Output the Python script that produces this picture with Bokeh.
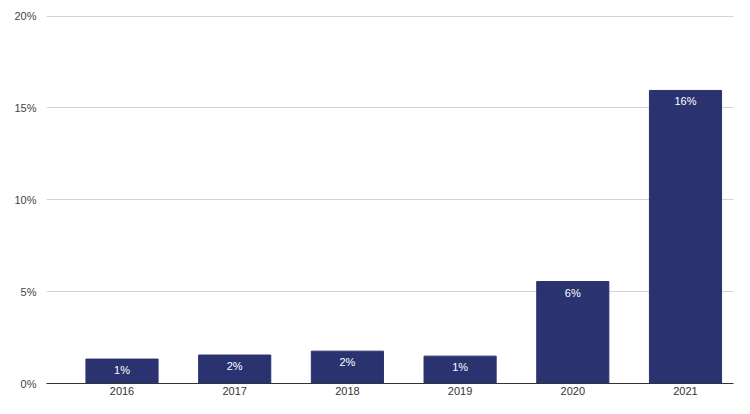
from bokeh.plotting import figure
from bokeh.models import ColumnDataSource, Range1d, FixedTicker, PrintfTickFormatter
from bokeh.core.properties import value
from bokeh.embed import file_html
from bokeh.resources import INLINE

years = [2016, 2017, 2018, 2019, 2020, 2021]
year_labels = ["2016", "2017", "2018", "2019", "2020", "2021"]
shares = [1.33, 1.55, 1.76, 1.49, 5.55, 15.95]
share_labels = ["1%", "2%", "2%", "1%", "6%", "16%"]
y_ticks = [0, 5, 10, 15, 20]

src = ColumnDataSource(dict(x=years, top=shares, label=share_labels))

p = figure(width=734, height=398, output_backend="svg", toolbar_location=None,
           x_range=Range1d(2015.330, 2021.426), y_range=Range1d(0, 20.03),
           min_border_left=46, min_border_right=1, min_border_top=15, min_border_bottom=15)
p.outline_line_color = None
p.background_fill_color = "white"

p.vbar(x="x", top="top", bottom=0, width=0.64, source=src,
       fill_color="#2b3270", line_color="#2b3270")
p.text(x="x", y="top", text="label", source=src, y_offset=5,
       text_align="center", text_baseline="top", text_color="white",
       text_font=value("Liberation Sans"), text_font_size="11px")

p.xaxis.ticker = FixedTicker(ticks=years)
p.xaxis.major_label_overrides = {y: l for y, l in zip(years, year_labels)}
p.xaxis.axis_line_color = "#333333"
p.xaxis.major_tick_line_color = None
p.xaxis.minor_tick_line_color = None
p.xaxis.major_tick_out = 0
p.xaxis.major_tick_in = 0
p.xaxis.major_label_standoff = 3
p.xaxis.major_label_text_font = "Liberation Sans"
p.xaxis.major_label_text_font_size = "11px"
p.xaxis.major_label_text_color = "#333333"

p.yaxis.ticker = FixedTicker(ticks=y_ticks)
p.yaxis.formatter = PrintfTickFormatter(format="%d%%")
p.yaxis.axis_line_color = None
p.yaxis.major_tick_line_color = None
p.yaxis.minor_tick_line_color = None
p.yaxis.major_tick_out = 0
p.yaxis.major_tick_in = 0
p.yaxis.major_label_standoff = 10
p.yaxis.major_label_text_font = "Liberation Sans"
p.yaxis.major_label_text_font_size = "11px"
p.yaxis.major_label_text_color = "#444444"

p.xgrid.grid_line_color = None
p.ygrid.ticker = FixedTicker(ticks=y_ticks)
p.ygrid.grid_line_color = "#d4d4d4"

open("out.html", "w").write(file_html(p, INLINE))
